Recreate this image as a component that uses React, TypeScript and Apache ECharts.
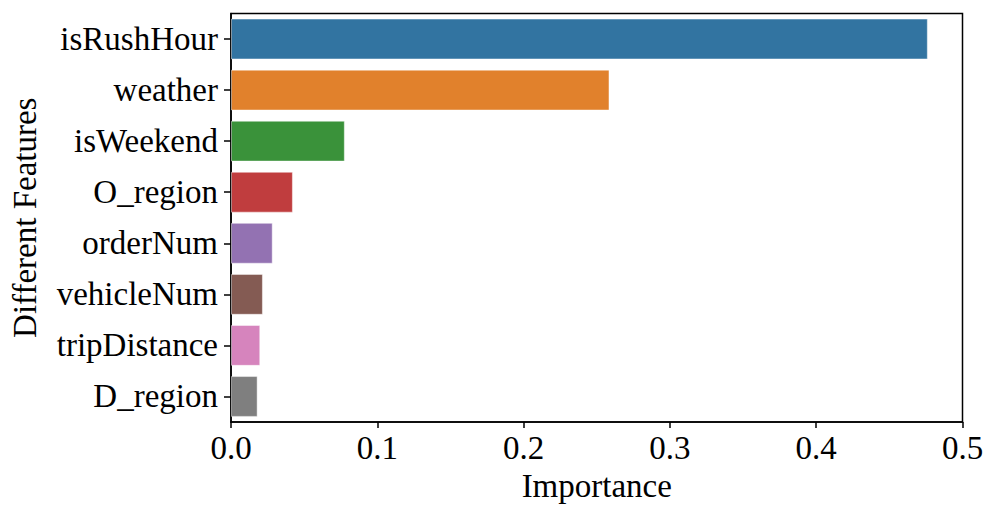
import React, { useEffect, useRef } from "react";
import * as echarts from "echarts";

const features = [
  "isRushHour",
  "weather",
  "isWeekend",
  "O_region",
  "orderNum",
  "vehicleNum",
  "tripDistance",
  "D_region",
];
const importance = [0.4763, 0.2587, 0.0778, 0.0423, 0.0285, 0.0218, 0.02, 0.0182];
const barColors = [
  "#3274a1",
  "#e1812c",
  "#3a923a",
  "#c03d3e",
  "#9372b2",
  "#845b53",
  "#d684bd",
  "#7f7f7f",
];
const xTicks = { min: 0, max: 0.5, interval: 0.1 };

const FONT = '"Liberation Serif", "Times New Roman", serif';

export default function App() {
  const ref = useRef<HTMLDivElement>(null);
  useEffect(() => {
    if (!ref.current) return;
    const chart = echarts.init(ref.current, undefined, { renderer: "svg" });
    chart.setOption({
      animation: false,
      backgroundColor: "#ffffff",
      grid: {
        left: 230,
        right: 33.5,
        top: 13.5,
        bottom: 95,
        show: true,
        borderColor: "#000",
        borderWidth: 1.5,
        backgroundColor: "transparent",
      },
      xAxis: {
        type: "value",
        min: xTicks.min,
        max: xTicks.max,
        interval: xTicks.interval,
        name: "Importance",
        nameLocation: "middle",
        nameGap: 47,
        nameTextStyle: { fontFamily: FONT, fontSize: 33, color: "#000" },
        axisLine: { show: true, lineStyle: { color: "#000", width: 1.5 } },
        axisTick: { show: true, length: 6, lineStyle: { color: "#000", width: 1.5 } },
        axisLabel: {
          fontFamily: FONT,
          fontSize: 33,
          color: "#000",
          margin: 9,
          formatter: (v: number) => v.toFixed(1),
        },
        splitLine: { show: false },
      },
      yAxis: {
        type: "category",
        data: features,
        inverse: true,
        name: "Different Features",
        nameLocation: "middle",
        nameGap: 190,
        nameTextStyle: { fontFamily: FONT, fontSize: 33, color: "#000" },
        axisLine: { show: true, lineStyle: { color: "#000", width: 1.5 } },
        axisTick: {
          show: true,
          alignWithLabel: true,
          length: 7,
          lineStyle: { color: "#000", width: 1.5 },
        },
        axisLabel: { fontFamily: FONT, fontSize: 33, color: "#000", margin: 13 },
        splitLine: { show: false },
      },
      series: [
        {
          type: "bar",
          data: importance.map((v, i) => ({
            value: v,
            itemStyle: { color: barColors[i] },
          })),
          barCategoryGap: "20%",
          itemStyle: { borderColor: "rgba(255,255,255,0.45)", borderWidth: 1 },
        },
      ],
    });
    return () => chart.dispose();
  }, []);
  return (
    <div
      ref={ref}
      style={{ position: "absolute", left: 0, top: 0, width: 996, height: 517 }}
    />
  );
}
